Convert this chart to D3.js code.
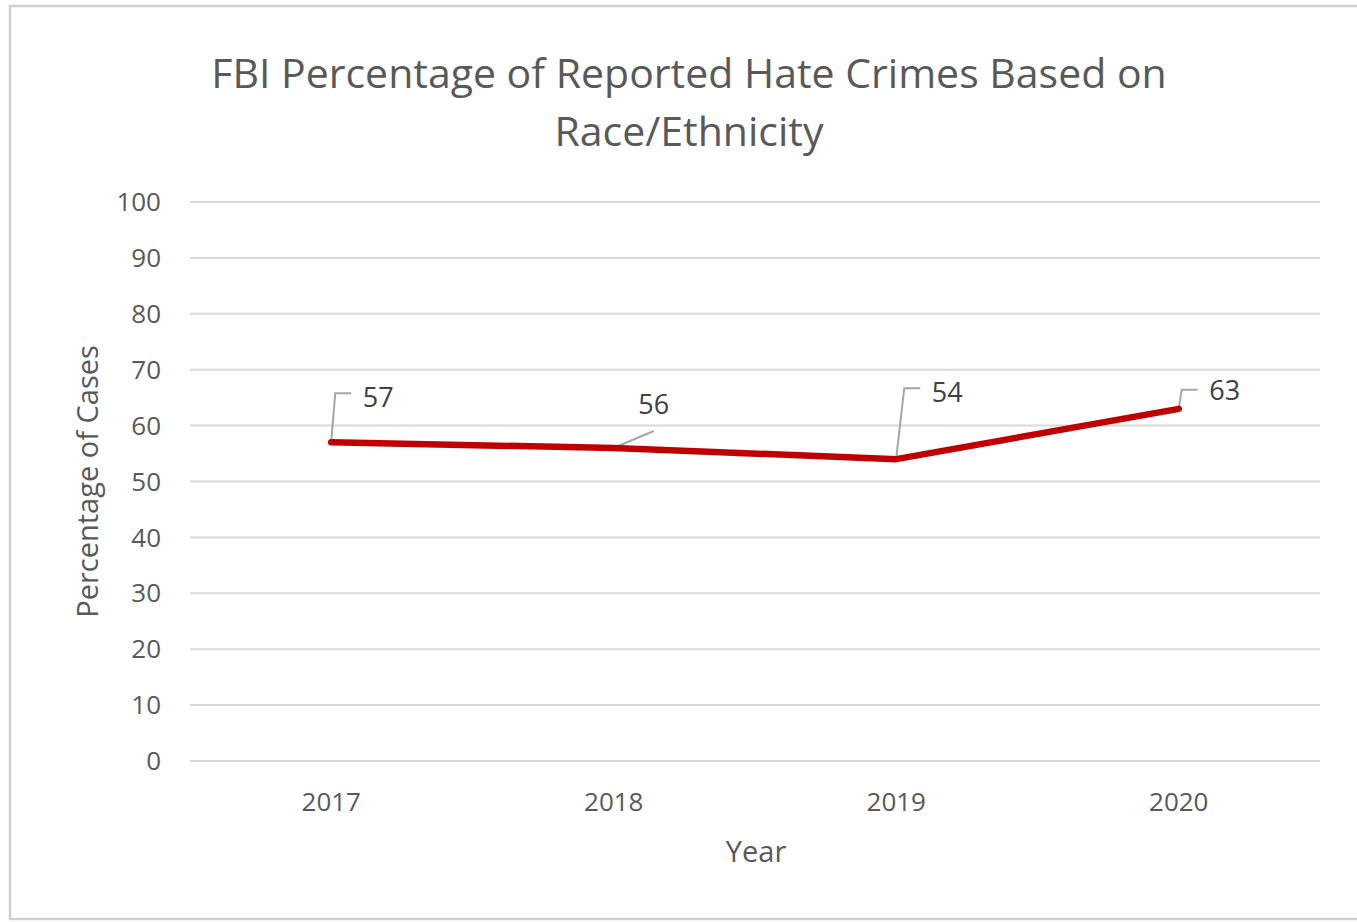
<!DOCTYPE html>
<html>
<head>
<meta charset="utf-8">
<script src="https://cdn.jsdelivr.net/npm/d3@7"></script>
<style>
  body { margin: 0; background: #fff; }
  text { font-family: "Open Sans", "Noto Sans", sans-serif; fill: #595959; }
</style>
</head>
<body>
<div class="chart"></div>
<script>
const years = ["2017", "2018", "2019", "2020"];
const percents = [57, 56, 54, 63];
const yTicks = [0, 10, 20, 30, 40, 50, 60, 70, 80, 90, 100];
const titleLines = ["FBI Percentage of Reported Hate Crimes Based on", "Race/Ethnicity"];

const width = 1357, height = 922;
const plotLeft = 190, plotRight = 1320, plotTop = 202, plotBottom = 761;

// where Excel dragged each data label, relative to its point
const labelLayout = [
  { kind: "elbow", dx: 47, dy: -45, lx: 4, ly: -49, hx: 20 },
  { kind: "diag",  dx: 40, dy: -43, lx: 40, ly: -17 },
  { kind: "elbow", dx: 51, dy: -67, lx: 8, ly: -71, hx: 24 },
  { kind: "elbow", dx: 46, dy: -18, lx: 3, ly: -19, hx: 19 }
];

const svg = d3.select(".chart").append("svg")
  .attr("width", width)
  .attr("height", height);

// frame
svg.append("rect")
  .attr("x", 10).attr("y", 6)
  .attr("width", width + 10).attr("height", 913)
  .attr("fill", "#fff")
  .attr("stroke", "#d0d0d0")
  .attr("stroke-width", 2.5);

const x = d3.scaleBand().domain(years).range([plotLeft, plotRight]);
const y = d3.scaleLinear().domain([0, 100]).range([plotBottom, plotTop]);

// gridlines
svg.append("g")
  .selectAll("line")
  .data(yTicks)
  .join("line")
  .attr("x1", plotLeft).attr("x2", plotRight)
  .attr("y1", d => y(d)).attr("y2", d => y(d))
  .attr("stroke", "#d9d9d9")
  .attr("stroke-width", 2);

// y tick labels
svg.append("g")
  .selectAll("text")
  .data(yTicks)
  .join("text")
  .attr("x", 161)
  .attr("y", d => y(d))
  .attr("dy", "0.35em")
  .attr("text-anchor", "end")
  .attr("font-size", 26)
  .text(d => d);

// x tick labels
svg.append("g")
  .selectAll("text")
  .data(years)
  .join("text")
  .attr("x", d => x(d) + x.bandwidth() / 2)
  .attr("y", 802)
  .attr("dy", "0.35em")
  .attr("text-anchor", "middle")
  .attr("font-size", 26)
  .text(d => d);

// title
svg.append("g")
  .selectAll("text")
  .data(titleLines)
  .join("text")
  .attr("x", 689)
  .attr("y", (d, i) => 74 + i * 58)
  .attr("dy", "0.35em")
  .attr("text-anchor", "middle")
  .attr("font-size", 41)
  .text(d => d);

// axis titles
svg.append("text")
  .attr("x", 756).attr("y", 852)
  .attr("dy", "0.35em")
  .attr("text-anchor", "middle")
  .attr("font-size", 29)
  .text("Year");

svg.append("text")
  .attr("transform", `translate(88,${(plotTop + plotBottom) / 2}) rotate(-90)`)
  .attr("dy", "0.35em")
  .attr("text-anchor", "middle")
  .attr("font-size", 29)
  .text("Percentage of Cases");

const pts = years.map((yr, i) => ({
  yr, v: percents[i], lay: labelLayout[i],
  px: x(yr) + x.bandwidth() / 2, py: y(percents[i])
}));

// leader lines
svg.append("g")
  .attr("fill", "none")
  .attr("stroke", "#a6a6a6")
  .attr("stroke-width", 2)
  .selectAll("path")
  .data(pts)
  .join("path")
  .attr("d", d => {
    const L = d.lay;
    if (L.kind === "diag") {
      return `M${d.px + 2},${d.py - 1} L${d.px + L.lx},${d.py + L.ly}`;
    }
    return `M${d.px},${d.py - 1} L${d.px + L.lx},${d.py + L.ly} L${d.px + L.hx},${d.py + L.ly}`;
  });

// series line
const line = d3.line()
  .x(d => d.px)
  .y(d => d.py);

svg.append("path")
  .datum(pts)
  .attr("fill", "none")
  .attr("stroke", "#c00000")
  .attr("stroke-width", 6.5)
  .attr("stroke-linecap", "round")
  .attr("stroke-linejoin", "round")
  .attr("d", line);

// data labels
svg.append("g")
  .selectAll("text")
  .data(pts)
  .join("text")
  .attr("x", d => d.px + d.lay.dx)
  .attr("y", d => d.py + d.lay.dy)
  .attr("dy", "0.35em")
  .attr("text-anchor", "middle")
  .attr("font-size", 27)
  .style("fill", "#404040")
  .text(d => d.v);
</script>
</body>
</html>
